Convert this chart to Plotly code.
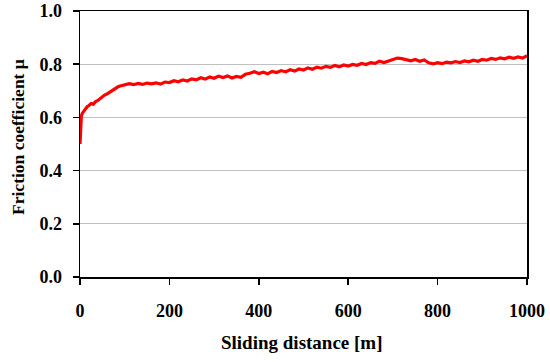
import plotly.graph_objects as go

# Sliding distance [m]
distance = [0, 1, 2, 3, 5, 8, 12, 16, 20, 25, 30, 35, 40, 45, 50, 55, 60, 65, 70, 75,
            80, 85, 90, 95] + list(range(100, 1001, 10))

# Friction coefficient
mu = [0.500, 0.560, 0.595, 0.605, 0.615, 0.622, 0.634, 0.640, 0.645, 0.652,
      0.650, 0.660, 0.664, 0.672, 0.676, 0.684, 0.688, 0.694, 0.699, 0.705,
      0.709, 0.715, 0.718, 0.721,
      0.722, 0.727, 0.723, 0.728, 0.724, 0.729, 0.726, 0.730, 0.725, 0.733,
      0.731, 0.738, 0.734, 0.741, 0.737, 0.745, 0.741, 0.749, 0.744, 0.752,
      0.747, 0.755, 0.750, 0.756, 0.748, 0.754, 0.751, 0.762, 0.766, 0.772,
      0.765, 0.770, 0.764, 0.773, 0.769, 0.776, 0.771, 0.779, 0.774, 0.782,
      0.778, 0.786, 0.781, 0.789, 0.785, 0.792, 0.788, 0.795, 0.790, 0.797,
      0.793, 0.799, 0.796, 0.803, 0.799, 0.806, 0.803, 0.811, 0.806, 0.812,
      0.816, 0.823, 0.821, 0.818, 0.813, 0.818, 0.811, 0.816, 0.805, 0.801,
      0.806, 0.802, 0.808, 0.805, 0.810, 0.806, 0.812, 0.809, 0.815, 0.811,
      0.818, 0.815, 0.822, 0.818, 0.824, 0.820, 0.826, 0.822, 0.827, 0.823,
      0.832]

x_ticks = [0, 200, 400, 600, 800, 1000]
y_ticks = [0.0, 0.2, 0.4, 0.6, 0.8, 1.0]

font = "Liberation Serif, Times New Roman, serif"

fig = go.Figure()
fig.add_trace(go.Scatter(x=distance, y=mu, mode="lines",
                         line=dict(color="#ff0000", width=3.2),
                         showlegend=False, hoverinfo="skip"))

fig.update_layout(
    width=550, height=362,
    margin=dict(l=80, r=23, t=11, b=85),
    paper_bgcolor="white", plot_bgcolor="white",
    font=dict(family=font, size=17, color="black"),
    annotations=[
        dict(text="<b>Sliding distance [m]</b>", xref="paper", yref="paper",
             x=0.497, y=-0.248, xanchor="center", yanchor="middle",
             showarrow=False, font=dict(family=font, size=19, color="black")),
        dict(text="<b>Friction coefficient μ</b>", xref="paper", yref="paper",
             x=-0.139, y=0.526, xanchor="center", yanchor="middle", textangle=-90,
             showarrow=False, font=dict(family=font, size=17.5, color="black")),
    ],
)
fig.update_xaxes(
    range=[0, 1000], tickvals=x_ticks, ticktext=[str(v) for v in x_ticks],
    showgrid=False, zeroline=False, automargin=False,
    showline=True, linecolor="black", linewidth=1.5, mirror=True,
    ticks="outside", ticklen=6, tickcolor="black", tickwidth=1.5,
    ticklabelstandoff=11,
    tickfont=dict(family=font, size=18, color="black", weight="bold"),
)
fig.update_yaxes(
    range=[0, 1.0], tickvals=y_ticks, ticktext=[f"{v:.1f}" for v in y_ticks],
    showgrid=True, gridcolor="#c0c0c0", gridwidth=1, zeroline=False, automargin=False,
    showline=True, linecolor="black", linewidth=1.5, mirror=True,
    ticks="outside", ticklen=6, tickcolor="black", tickwidth=1.5,
    ticklabelstandoff=7,
    tickfont=dict(family=font, size=18, color="black", weight="bold"),
)

fig.write_html("out.html",
               config={"displayModeBar": False, "staticPlot": True},
               post_script="document.body.style.margin='0';document.body.style.overflow='hidden';")
